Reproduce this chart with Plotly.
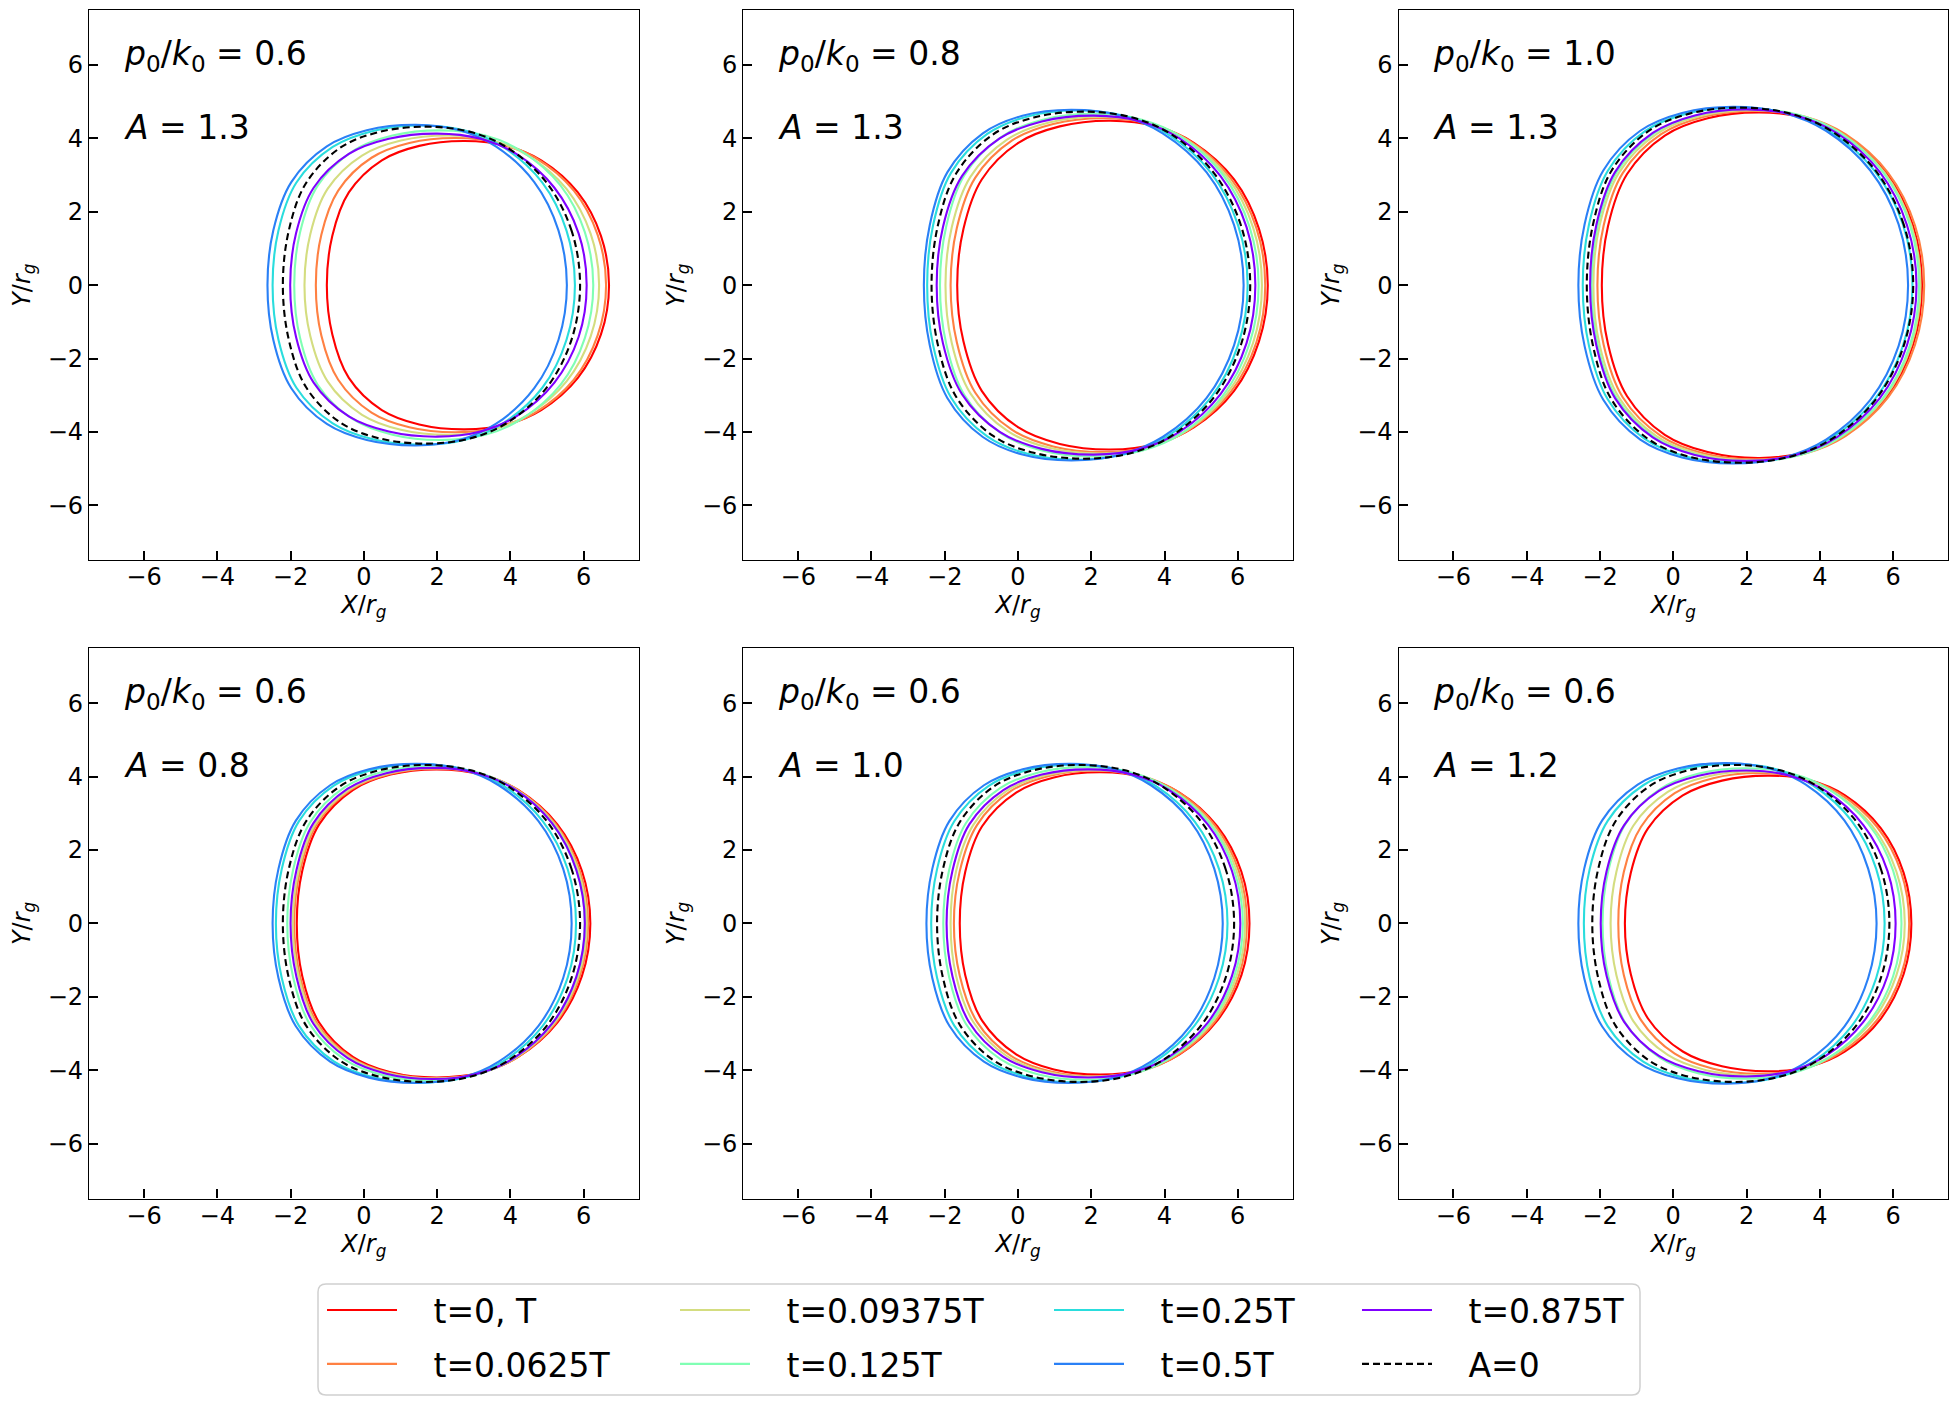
import plotly.graph_objects as go

# curves in every panel, in drawing order
labels = ["t=0, T", "t=0.0625T", "t=0.09375T", "t=0.125T", "t=0.25T", "t=0.5T", "t=0.875T", "A=0"]
colors = ["#ff0000", "#ff8042", "#d4dd80", "#80ffb4", "#2adddd", "#2a80f6", "#8000ff", "black"]
legend_col = ["legend", "legend", "legend2", "legend2", "legend3", "legend3", "legend4", "legend4"]

panel_p = ["0.6", "0.8", "1.0", "0.6", "0.6", "0.6"]
panel_a = ["1.3", "1.3", "1.3", "0.8", "1.0", "1.2"]

tick_vals = [-6, -4, -2, 0, 2, 4, 6]

# edges were read at these fractions of each curve's top height
levels = [0.0, 0.342, 0.643, 0.866, 0.966]

# one value per curve (same order as labels); *_left / *_right hold one row per level
# panel 1: p0/k0=0.6, A=1.3
p1_left = [[-1.01, -1.31, -1.62, -1.90, -2.49, -2.63, -2.01, -2.21],
           [-0.86, -1.16, -1.46, -1.74, -2.33, -2.47, -1.85, -2.05],
           [-0.41, -0.70, -0.99, -1.26, -1.84, -1.98, -1.37, -1.58],
           [0.49, 0.21, -0.05, -0.30, -0.85, -1.01, -0.41, -0.65],
           [1.51, 1.24, 1.01, 0.78, 0.25, 0.08, 0.68, 0.41]]
p1_top_x = [2.75, 2.50, 2.30, 2.10, 1.60, 1.42, 2.00, 1.70]
p1_top_y = [3.93, 4.01, 4.08, 4.22, 4.35, 4.37, 4.13, 4.32]
p1_right = [[6.69, 6.61, 6.42, 6.26, 5.76, 5.54, 6.08, 5.90],
            [6.47, 6.38, 6.19, 6.03, 5.53, 5.31, 5.86, 5.67],
            [5.84, 5.73, 5.53, 5.37, 4.87, 4.65, 5.20, 5.00],
            [4.84, 4.68, 4.48, 4.30, 3.80, 3.60, 4.16, 3.93],
            [3.89, 3.69, 3.49, 3.31, 2.81, 2.61, 3.18, 2.92]]

# panel 2: p0/k0=0.8, A=1.3
p2_left = [[-1.66, -1.84, -1.98, -2.13, -2.48, -2.57, -2.22, -2.36],
           [-1.49, -1.67, -1.81, -1.96, -2.32, -2.41, -2.05, -2.19],
           [-0.99, -1.17, -1.30, -1.46, -1.83, -1.93, -1.53, -1.69],
           [0.01, -0.17, -0.29, -0.45, -0.84, -0.96, -0.50, -0.70],
           [1.14, 0.96, 0.85, 0.68, 0.26, 0.12, 0.65, 0.43]]
p2_top_x = [2.52, 2.34, 2.25, 2.07, 1.61, 1.45, 2.07, 1.80]
p2_top_y = [4.48, 4.55, 4.59, 4.67, 4.76, 4.78, 4.62, 4.73]
p2_right = [[6.82, 6.75, 6.66, 6.57, 6.27, 6.16, 6.48, 6.34],
            [6.58, 6.51, 6.42, 6.32, 6.01, 5.90, 6.24, 6.09],
            [5.90, 5.80, 5.71, 5.60, 5.27, 5.15, 5.53, 5.36],
            [4.80, 4.68, 4.59, 4.46, 4.08, 3.95, 4.41, 4.21],
            [3.77, 3.62, 3.53, 3.38, 2.96, 2.82, 3.35, 3.12]]

# panel 3: p0/k0=1.0, A=1.3
p3_left = [[-1.95, -2.07, -2.18, -2.23, -2.47, -2.59, -2.27, -2.36],
           [-1.78, -1.90, -2.01, -2.06, -2.30, -2.42, -2.10, -2.19],
           [-1.26, -1.38, -1.48, -1.54, -1.79, -1.91, -1.59, -1.69],
           [-0.23, -0.33, -0.44, -0.50, -0.78, -0.90, -0.56, -0.69],
           [0.94, 0.84, 0.74, 0.67, 0.36, 0.24, 0.59, 0.44]]
p3_top_x = [2.36, 2.27, 2.18, 2.10, 1.75, 1.64, 2.00, 1.82]
p3_top_y = [4.71, 4.75, 4.77, 4.80, 4.84, 4.86, 4.79, 4.84]
p3_right = [[6.79, 6.85, 6.75, 6.71, 6.53, 6.41, 6.64, 6.55],
            [6.55, 6.60, 6.50, 6.46, 6.27, 6.15, 6.38, 6.29],
            [5.84, 5.87, 5.77, 5.72, 5.50, 5.38, 5.64, 5.53],
            [4.71, 4.70, 4.60, 4.54, 4.28, 4.17, 4.46, 4.33],
            [3.64, 3.60, 3.51, 3.44, 3.14, 3.02, 3.35, 3.19]]

# panel 4: p0/k0=0.6, A=0.8
p4_left = [[-1.83, -1.90, -1.94, -2.09, -2.40, -2.49, -2.00, -2.21],
           [-1.68, -1.74, -1.78, -1.93, -2.24, -2.33, -1.84, -2.05],
           [-1.22, -1.28, -1.32, -1.47, -1.77, -1.86, -1.38, -1.58],
           [-0.30, -0.34, -0.38, -0.53, -0.82, -0.92, -0.44, -0.65],
           [0.73, 0.71, 0.67, 0.52, 0.25, 0.14, 0.61, 0.41]]
p4_top_x = [1.99, 1.99, 1.95, 1.80, 1.55, 1.44, 1.90, 1.70]
p4_top_y = [4.20, 4.22, 4.23, 4.28, 4.34, 4.35, 4.24, 4.32]
p4_right = [[6.18, 6.12, 6.08, 6.03, 5.79, 5.67, 6.03, 5.90],
            [5.95, 5.89, 5.85, 5.80, 5.56, 5.44, 5.80, 5.67],
            [5.28, 5.23, 5.19, 5.12, 4.88, 4.76, 5.14, 5.00],
            [4.21, 4.18, 4.14, 4.04, 3.80, 3.68, 4.09, 3.93],
            [3.21, 3.19, 3.15, 3.03, 2.78, 2.67, 3.10, 2.92]]

# panel 5: p0/k0=0.6, A=1.0
p5_left = [[-1.59, -1.75, -1.84, -2.04, -2.37, -2.50, -1.95, -2.21],
           [-1.44, -1.59, -1.69, -1.88, -2.21, -2.34, -1.79, -2.05],
           [-0.98, -1.12, -1.22, -1.42, -1.74, -1.87, -1.33, -1.58],
           [-0.05, -0.19, -0.30, -0.49, -0.80, -0.93, -0.40, -0.65],
           [0.98, 0.87, 0.75, 0.56, 0.26, 0.13, 0.65, 0.41]]
p5_top_x = [2.25, 2.16, 2.02, 1.84, 1.55, 1.43, 1.93, 1.70]
p5_top_y = [4.12, 4.17, 4.18, 4.26, 4.33, 4.35, 4.20, 4.32]
p5_right = [[6.32, 6.25, 6.20, 6.14, 5.72, 5.59, 6.07, 5.90],
            [6.10, 6.03, 5.97, 5.90, 5.49, 5.36, 5.84, 5.67],
            [5.44, 5.37, 5.30, 5.22, 4.82, 4.70, 5.18, 5.00],
            [4.41, 4.33, 4.24, 4.12, 3.76, 3.63, 4.12, 3.93],
            [3.43, 3.35, 3.23, 3.09, 2.76, 2.64, 3.13, 2.92]]

# panel 6: p0/k0=0.6, A=1.2
p6_left = [[-1.32, -1.50, -1.71, -1.93, -2.44, -2.59, -1.98, -2.21],
           [-1.16, -1.35, -1.55, -1.77, -2.28, -2.43, -1.82, -2.05],
           [-0.69, -0.88, -1.09, -1.30, -1.79, -1.94, -1.34, -1.58],
           [0.26, 0.04, -0.15, -0.36, -0.82, -0.97, -0.39, -0.65],
           [1.33, 1.09, 0.90, 0.70, 0.27, 0.12, 0.69, 0.41]]
p6_top_x = [2.64, 2.36, 2.18, 2.00, 1.60, 1.45, 2.00, 1.70]
p6_top_y = [4.03, 4.10, 4.14, 4.23, 4.35, 4.37, 4.17, 4.32]
p6_right = [[6.50, 6.44, 6.32, 6.23, 5.77, 5.55, 6.07, 5.90],
            [6.29, 6.22, 6.09, 6.00, 5.54, 5.32, 5.85, 5.67],
            [5.67, 5.56, 5.43, 5.32, 4.87, 4.67, 5.19, 5.00],
            [4.69, 4.52, 4.37, 4.24, 3.81, 3.62, 4.16, 3.93],
            [3.76, 3.54, 3.38, 3.23, 2.81, 2.64, 3.18, 2.92]]

panels = [
    (p1_left, p1_top_x, p1_top_y, p1_right),
    (p2_left, p2_top_x, p2_top_y, p2_right),
    (p3_left, p3_top_x, p3_top_y, p3_right),
    (p4_left, p4_top_x, p4_top_y, p4_right),
    (p5_left, p5_top_x, p5_top_y, p5_right),
    (p6_left, p6_top_x, p6_top_y, p6_right),
]

# page body has an 8px margin, so the figure is 16px smaller than the window
W, H = 1950, 1397
col_dom = [(81, 630.7), (735.3, 1284.7), (1390.5, 1940)]
row_dom = [(2, 552.3), (640.3, 1190.6)]  # pixels from top


def outline(left, top_x, top_y, right, i):
    # walk round the shadow: upper right -> top -> upper left -> lower left -> bottom -> lower right
    n = len(levels)
    xs, ys = [], []
    for j in range(n):
        xs.append(right[j][i]); ys.append(levels[j] * top_y[i])
    xs.append(top_x[i]); ys.append(top_y[i])
    for j in reversed(range(n)):
        xs.append(left[j][i]); ys.append(levels[j] * top_y[i])
    for j in range(1, n):
        xs.append(left[j][i]); ys.append(-levels[j] * top_y[i])
    xs.append(top_x[i]); ys.append(-top_y[i])
    for j in reversed(range(n)):
        xs.append(right[j][i]); ys.append(-levels[j] * top_y[i])
    return xs, ys


fig = go.Figure()
layout = dict(
    width=W, height=H,
    margin=dict(l=0, r=0, t=0, b=0),
    paper_bgcolor="white", plot_bgcolor="white",
    font=dict(family="DejaVu Sans", color="black"),
    annotations=[], shapes=[],
)

for k, (left, top_x, top_y, right) in enumerate(panels):
    r, c = divmod(k, 3)
    n = "" if k == 0 else str(k + 1)
    xa, ya = "x" + n, "y" + n
    for i in range(len(labels)):
        xs, ys = outline(left, top_x, top_y, right, i)
        fig.add_trace(go.Scatter(
            x=xs, y=ys, xaxis=xa, yaxis=ya, mode="lines",
            line=dict(color=colors[i], width=2.1, shape="spline", smoothing=1,
                      dash="7px,4px" if labels[i] == "A=0" else "solid"),
            name="\u00a0\u00a0\u00a0" + labels[i], showlegend=(k == 0),
            legend=legend_col[i], legendgroup=labels[i] if k == 0 else None,
            hoverinfo="skip",
        ))

    x0, x1 = col_dom[c]
    y0, y1 = row_dom[r]
    axis = dict(
        range=[-7.5, 7.5], tickvals=tick_vals, ticks="inside", ticklen=9,
        tickwidth=1.6, tickcolor="black", showline=True, linecolor="black",
        linewidth=1.3, mirror=True, showgrid=False, zeroline=False,
        tickfont=dict(size=24), fixedrange=True, automargin=False,
    )
    layout["xaxis" + n] = dict(axis, domain=[x0 / W, x1 / W], anchor=ya,
                               ticklabelstandoff=-5,
                               title=dict(text="<i>X</i>/<i>r</i><sub><i>g</i></sub>",
                                          font=dict(size=24), standoff=4))
    layout["yaxis" + n] = dict(axis, domain=[1 - y1 / H, 1 - y0 / H], anchor=xa,
                               title=dict(text="<i>Y</i>/<i>r</i><sub><i>g</i></sub>",
                                          font=dict(size=24), standoff=10))
    layout["annotations"] += [
        dict(xref=xa + " domain", yref=ya + " domain", x=0.060, y=0.918,
             xanchor="left", yanchor="middle", showarrow=False,
             text="<i>p</i><sub>0</sub>/<i>k</i><sub>0</sub> = " + panel_p[k],
             font=dict(size=33)),
        dict(xref=xa + " domain", yref=ya + " domain", x=0.060, y=0.787,
             xanchor="left", yanchor="middle", showarrow=False,
             text="<i>A</i> = " + panel_a[k], font=dict(size=33)),
    ]

# legend: four columns of two entries, inside one rounded frame
legend_left = [314, 667, 1041, 1349]
for j, name in enumerate(["legend", "legend2", "legend3", "legend4"]):
    layout[name] = dict(
        x=legend_left[j] / W, y=1 - 1274 / H, xanchor="left", yanchor="top",
        orientation="v", bgcolor="rgba(0,0,0,0)", borderwidth=0,
        font=dict(size=33), itemwidth=70, tracegroupgap=8,
    )

bx0, bx1, by0, by1 = 310 / W, 1632 / W, 1 - 1387 / H, 1 - 1276 / H
rx, ry = 8 / W, 8 / H
frame = (f"M{bx0 + rx},{by0} L{bx1 - rx},{by0} Q{bx1},{by0} {bx1},{by0 + ry} "
         f"L{bx1},{by1 - ry} Q{bx1},{by1} {bx1 - rx},{by1} L{bx0 + rx},{by1} "
         f"Q{bx0},{by1} {bx0},{by1 - ry} L{bx0},{by0 + ry} Q{bx0},{by0} {bx0 + rx},{by0} Z")
layout["shapes"].append(dict(type="path", xref="paper", yref="paper", path=frame,
                             line=dict(color="#d0d0d0", width=1.5), layer="below"))

fig.update_layout(**layout)
fig.write_html("out.html")
